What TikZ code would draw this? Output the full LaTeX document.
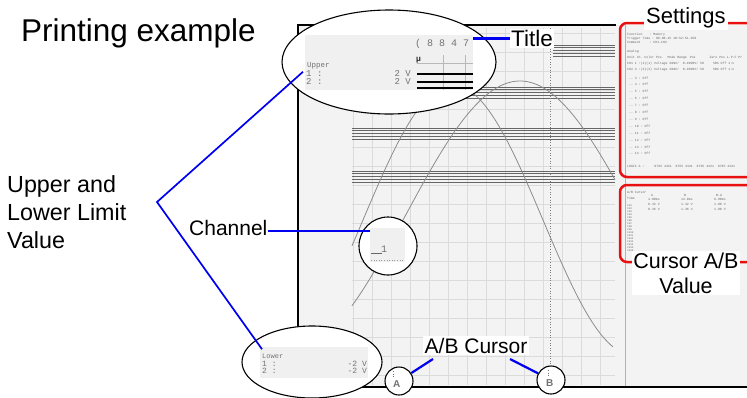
\documentclass[tikz,border=0pt]{standalone}
\usepackage{fontspec}
\setmainfont{Liberation Sans}
\setmonofont{Liberation Mono}
\usetikzlibrary{shapes.geometric}
\definecolor{paper}{HTML}{F3F3F3}
\definecolor{callblue}{HTML}{0000F0}
\definecolor{boxred}{HTML}{E81010}
\begin{document}
\begin{tikzpicture}[x=1pt,y=-1pt,
  lbl/.style={font=\fontsize{21.5}{25}\selectfont, inner sep=0pt},
  whitelbl/.style={lbl, fill=white, inner sep=1.5pt},
  callout/.style={callblue, line width=2.2pt},
  limline/.style={callblue, line width=1.7pt},
  frameline/.style={black, line width=2pt},
  redbox/.style={draw=boxred, line width=2.5pt, rounded corners=7pt},
  bandline/.style={black!60, line width=0.95pt},
  wave/.style={black!45, line width=0.8pt},
  gridline/.style={black!14, line width=0.5pt},
  magrect/.style={rectangle, fill=black!6, draw=none, inner sep=0pt},
  zoomring/.style={draw=black, fill=white, line width=1.1pt, inner sep=0pt},
  dmtext/.style={font=\fontsize{9}{9}\selectfont\ttfamily, text=black!55, inner sep=0pt},
  tinytext/.style={font=\fontsize{3.2}{3.6}\selectfont\ttfamily, text=black!60, inner sep=0pt, anchor=base west},
]
\useasboundingbox (0,0) rectangle (747,397);
\fill[white] (0,0) rectangle (747,397);

% ---- printout paper
\fill[paper] (298,25) rectangle (760,387);
\begin{scope}
  \clip (352,28) rectangle (615,385);
  \foreach \k in {0,...,14} {\draw[gridline] ({353+19*\k},28) -- ({353+19*\k},385);}
  \foreach \k in {0,...,19} {\draw[gridline] (352,{33+19*\k}) -- (615,{33+19*\k});}
\end{scope}
% limit bands
\foreach \yy/\xs in {45/553,87/352,128/352,171/352}{
  \foreach \j in {0,...,4}{\draw[bandline] (\xs,{\yy+2.8*\j}) -- (615,{\yy+2.8*\j});}}
% waveforms
\draw[wave, domain=352:615, samples=120] plot (\x,{81+135*(1-cos(0.7838*(\x-520)))});
\draw[wave, domain=352:613, samples=120] plot (\x,{85+135*(1-cos(\x-453))});
% cursor B line
\draw[black!50, dotted, line width=0.6pt] (550,28) -- (550,366);
% separator
\draw[black!30, line width=0.6pt] (625,25) -- (625,387);
% frame
\draw[frameline] (616,25) -- (298,25) -- (298,387) -- (760,387);

% ---- settings panel
\draw[redbox] (620,23) rectangle (770,177);
\node[tinytext] (st1) at (627,35) {Function\hspace{7pt}: Memory};
\node[tinytext] (st2) at (627,39) {Trigger Time : 09-08-15 10:52:51.250};
\node[tinytext] (st3) at (627,43) {Comment\hspace{9pt}: CH1-CH2};
\node[tinytext] (st4) at (627,52) {Analog};
\node[tinytext] (st5) at (627,58) {Unit ch. Color Pos.\hspace{4pt}Mode Range\hspace{3pt}Pos\hspace{14pt}Zero Pos L.P.F Pr};
\node[tinytext] (st6) at (627,64) {CH1 1 :(1)(1) Voltage 20mV/\ \ 0.2000V/ 50\hspace{9pt}50\% Off\ 1:1};
\node[tinytext] (st7) at (627,70.5) {CH2 2 :(2)(2) Voltage 20mV/\ \ 0.2000V/ 50\hspace{9pt}50\% Off\ 1:1};
\foreach \r in {3,...,14} {\node[tinytext] (off\r) at (629,{79+6.9*(\r-3)}) {-- \r\ : Off};}
\node[tinytext] (st8) at (627,167) {LOGIC A :\hspace{10pt}8765 4321\ \ 8765 4321\ \ 8765 4321\ \ 8765 4321};

% ---- cursor panel
\draw[redbox] (620,185) rectangle (770,262);
\node[tinytext] (cu1) at (627,193) {A/B Cursor};
\node[tinytext] (cu2) at (627,199) {Time};
\node[tinytext] (cuA) at (651,196) {A};
\node[tinytext] (cuB) at (684,196) {B};
\node[tinytext] (cuBA) at (716,196) {B-A};
\node[tinytext] (cuA1) at (648,200) {4.00ms};
\node[tinytext] (cuB1) at (681,200) {12.0ms};
\node[tinytext] (cuBA1) at (714,200) {8.00ms};
\node[tinytext] (cuA2) at (648,205.5) {0.32 V};
\node[tinytext] (cuA3) at (648,210) {0.36 V};
\node[tinytext] (cuB2) at (681,205.5) {1.32 V};
\node[tinytext] (cuB3) at (681,210) {1.36 V};
\node[tinytext] (cuBA2) at (714,205.5) {1.00 V};
\node[tinytext] (cuBA3) at (714,210) {1.00 V};
\foreach \r in {1,...,16} {\node[tinytext, font=\fontsize{2.6}{3}\selectfont\ttfamily] (cl\r) at (627,{203+3*\r}) {CH\r};}

% ---- upper magnifier
\node[ellipse, zoomring, minimum width=214pt, minimum height=104pt] (upz) at (389,62) {};
\node[magrect, minimum width=168pt, minimum height=55pt] (upmag) at (389,62.5) {};
\draw[black!28, line width=0.5pt] (417,63) -- (473,63);
\draw[black!28, line width=0.5pt] (443,55) -- (443,90);
\draw[black!28, line width=0.5pt] (465,55) -- (465,90);
\foreach \yy in {73.5,81.5,88.3} {\draw[black, line width=2pt] (417,\yy) -- (473,\yy);}
\node[dmtext, anchor=base west, font=\fontsize{10}{10}\selectfont\ttfamily] (ttl) at (415,46) {( 8 8 4 7};
\node[dmtext, anchor=base west, text=black!85, font=\fontsize{8}{8}\selectfont\ttfamily\bfseries] (mu) at (416,61) {μ};
\node[dmtext, anchor=base west, font=\fontsize{7.5}{7.5}\selectfont\ttfamily] (upperTxt) at (307,67) {Upper};
\node[dmtext, anchor=base west, font=\fontsize{9}{9}\selectfont\ttfamily] (u1) at (306,76.5) {1 :};
\node[dmtext, anchor=base west, font=\fontsize{9}{9}\selectfont\ttfamily] (u2) at (306,84) {2 :};
\node[dmtext, anchor=base east] (u1v) at (411,76.5) {2 V};
\node[dmtext, anchor=base east] (u2v) at (411,84) {2 V};

% ---- lower magnifier
\node[ellipse, zoomring, minimum width=140pt, minimum height=72pt] (loz) at (312,362) {};
\node[magrect, minimum width=108pt, minimum height=31pt] (lomag) at (314,362.5) {};
\node[dmtext, anchor=base west, font=\fontsize{7}{7}\selectfont\ttfamily] (lowerTxt) at (262,358) {Lower};
\node[dmtext, anchor=base west, font=\fontsize{8}{8}\selectfont\ttfamily] (l1) at (262,366) {1 :};
\node[dmtext, anchor=base west, font=\fontsize{8}{8}\selectfont\ttfamily] (l2) at (262,373) {2 :};
\node[dmtext, anchor=base east, font=\fontsize{8}{8}\selectfont\ttfamily] (l1v) at (367,366) {-2 V};
\node[dmtext, anchor=base east, font=\fontsize{8}{8}\selectfont\ttfamily] (l2v) at (367,373) {-2 V};

% ---- channel magnifier
\node[circle, zoomring, minimum size=58pt] (chz) at (388,246) {};
\node[magrect, minimum width=35pt, minimum height=34pt] (chmag) at (387.5,245) {};
\draw[black!60, line width=1pt] (371,253) -- (382,253);
\node[dmtext, anchor=base west, font=\fontsize{10}{10}\selectfont\ttfamily] (ch1) at (381,252) {1};
\draw[black!40, dotted, line width=0.6pt] (371,260.5) -- (404,260.5);

% ---- cursor markers
\node[circle, zoomring, minimum size=28pt] (cA) at (399,381) {};
\node[circle, zoomring, minimum size=28pt] (cB) at (551,380) {};
\draw[black!55, dotted, line width=0.7pt] (393,371) -- (393,378);
\draw[black!55, dotted, line width=0.7pt] (548,370) -- (548,377);
\node[anchor=base west, inner sep=0pt, text=black!55, font=\fontsize{10}{10}\selectfont\bfseries] (aTxt) at (393,387) {A};
\node[anchor=base west, inner sep=0pt, text=black!55, font=\fontsize{10}{10}\selectfont\bfseries] (bTxt) at (546,386) {B};

% ---- labels
\node[lbl, anchor=base west, font=\fontsize{31.5}{34}\selectfont] (heading) at (21,41) {Printing example};
\node[lbl, anchor=base west, font=\fontsize{23.3}{28}\selectfont] (limA) at (7,192) {Upper and};
\node[lbl, anchor=base west, font=\fontsize{23.3}{28}\selectfont] (limB) at (7,220) {Lower Limit};
\node[lbl, anchor=base west, font=\fontsize{23.3}{28}\selectfont] (limC) at (7,248) {Value};
\node[lbl, anchor=base west, font=\fontsize{21}{25}\selectfont] (chan) at (189,235.5) {Channel};
\node[whitelbl, anchor=base west, font=\fontsize{22.5}{25}\selectfont] (title) at (509.5,46.5) {Title};
\node[whitelbl, anchor=base west, font=\fontsize{22}{25}\selectfont, inner sep=2pt] (settings) at (644,23.5) {Settings};
\node[whitelbl, anchor=base west, font=\fontsize{21}{25}\selectfont] (abcur) at (423,353) {A/B Cursor};
\node[whitelbl, align=center, font=\fontsize{21.5}{25}\selectfont] (curval) at (686,273) {Cursor A/B\\Value};

% ---- connectors
\coordinate (lim) at (157,202);
\draw[limline] ([xshift=-4pt,yshift=-3pt]upperTxt.south west) -- (lim) -- ([yshift=4pt]lowerTxt.north west);
\draw[callout] ([yshift=-3pt]chan.east) -- ([yshift=-3pt]chan.east -| chmag.west);
\draw[callout] (title.west) -- (title.west -| upmag.east);
\coordinate (abA) at (433,359);
\coordinate (abB) at (510,359);
\draw[callout] (abA) -- (cA);
\draw[callout] (abB) -- (cB);
\end{tikzpicture}
\end{document}
